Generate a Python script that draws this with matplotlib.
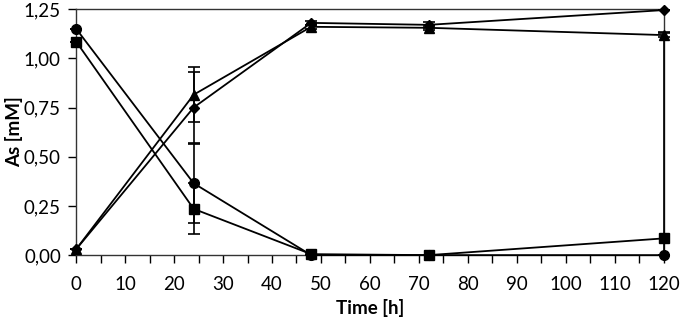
import matplotlib.pyplot as plt
from matplotlib.ticker import FuncFormatter

# dados
time = [0, 24, 48, 72, 120]
circle = [1.15, 0.365, 0.0, 0.0, 0.0]
square = [1.085, 0.235, 0.005, 0.0, 0.085]
triangle = [0.03, 0.815, 1.16, 1.155, 1.118]
diamond = [0.03, 0.75, 1.18, 1.17, 1.245]

circle_err = [0.0, 0.2, 0.0, 0.0, 0.0]
square_err_low = [0.0, 0.13, 0.005, 0.0, 0.085]
square_err_up = [0.0, 0.13, 0.005, 0.0, 1.05]
triangle_err = [0.0, 0.14, 0.01, 0.01, 0.01]
diamond_err = [0.0, 0.18, 0.01, 0.015, 0.0]

plt.rcParams['font.family'] = ['Lato', 'DejaVu Sans']

fig = plt.figure(figsize=(6.8, 3.25), dpi=100)
ax = fig.add_axes([0.112, 0.215, 0.864, 0.757])

series = [(circle, circle_err, 'o', 7),
          (square, [square_err_low, square_err_up], 's', 6.5),
          (triangle, triangle_err, '^', 7.5),
          (diamond, diamond_err, 'D', 5.5)]
for vals, err, mk, ms in series:
    ax.errorbar(time, vals, yerr=err, color='black', marker=mk, markersize=ms,
                linewidth=1.3, elinewidth=1.2, capsize=4, capthick=1.2,
                clip_on=False, zorder=3)

ax.set_xlim(0, 120)
ax.set_ylim(0, 1.25)
ax.set_xticks(range(0, 121, 5))
ax.set_xticklabels([str(t) if t % 10 == 0 else '' for t in range(0, 121, 5)])
ax.set_yticks([0, 0.25, 0.5, 0.75, 1.0, 1.25])
ax.yaxis.set_major_formatter(FuncFormatter(lambda v, p: f'{v:.2f}'.replace('.', ',')))
ax.tick_params(direction='out', length=6, width=1, labelsize=13.5, pad=5)
ax.tick_params(axis='x', pad=9)

for s in ax.spines.values():
    s.set_linewidth(1)
    s.set_color('#333333')

ax.set_xlabel('Time [h]', fontsize=13.5, fontweight='bold', labelpad=4)
ax.set_ylabel('As [mM]', fontsize=13.5, fontweight='bold')
ax.yaxis.set_label_coords(-0.112 + 13 / 588, 0.5)

fig.savefig('out.png', dpi=100)
